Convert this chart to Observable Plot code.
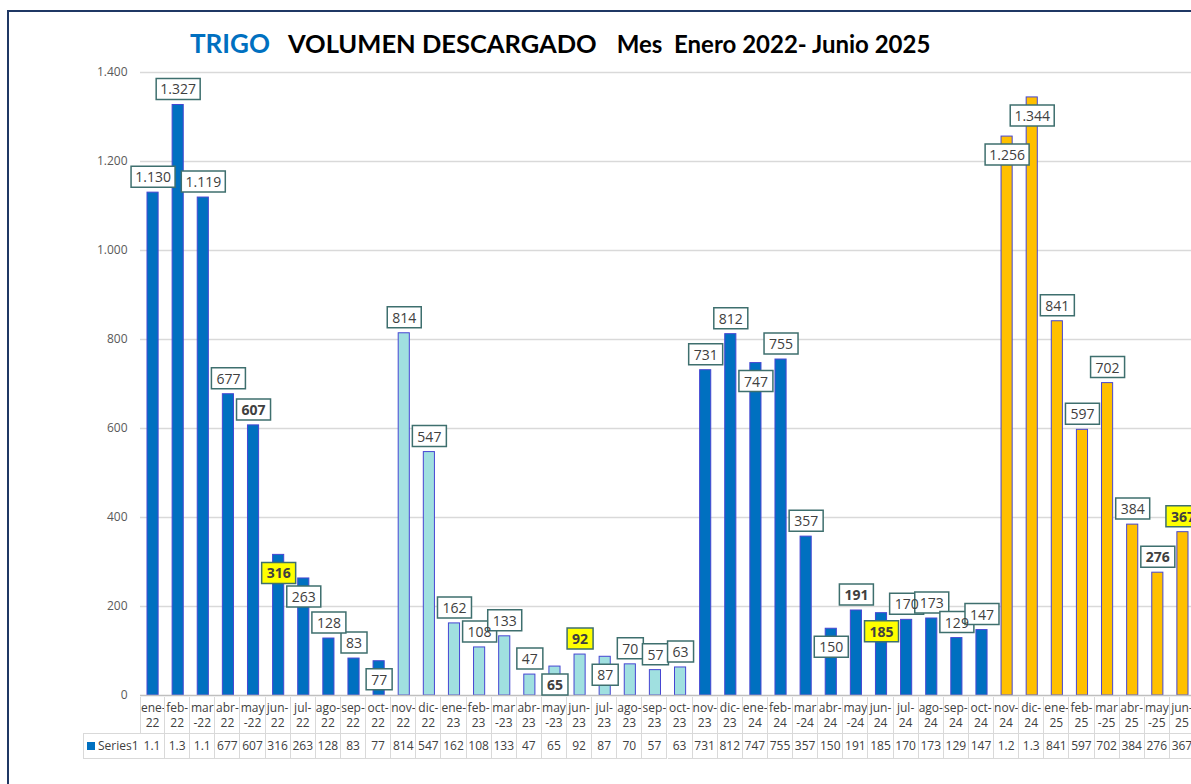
<!DOCTYPE html>
<html>
<head>
<meta charset="utf-8">
<script src="https://cdn.jsdelivr.net/npm/d3@7"></script>
<script src="https://cdn.jsdelivr.net/npm/@observablehq/plot@0.6"></script>
<style>
  html, body { margin: 0; padding: 0; background: #fff; overflow: hidden; }
  #wrap { position: relative; width: 1191px; height: 784px; overflow: hidden; font-family: "Open Sans", sans-serif; }
  #frame { position: absolute; left: 7px; top: 10px; width: 1400px; height: 1000px;
           border-top: 2px solid #1F3864; border-left: 2px solid #1F3864; }
  #title { position: absolute; left: 190px; top: 27px; white-space: nowrap; font-family: Lato, "Open Sans", sans-serif; font-weight: bold; }
  #title .t1 { color: #0070C0; font-size: 26px; }
  #title .t2 { color: #000; font-size: 25.5px; margin-left: 18px; }
  #title .t3 { color: #000; font-size: 24px; margin-left: 20px; }
  #chart { position: absolute; left: 0; top: 60px; width: 1200px; }
  #chart svg { max-width: none !important; }
  .cell { position: absolute; box-sizing: border-box; color: #404040; font-size: 12px; text-align: center; white-space: nowrap; overflow: hidden; }
</style>
</head>
<body>
<div id="wrap">
  <div id="frame"></div>
  <div id="title"><span class="t1">TRIGO</span><span class="t2">VOLUMEN DESCARGADO</span><span class="t3">Mes&nbsp; Enero 2022- Junio 2025</span></div>
  <div id="chart"></div>
  <div id="table"></div>
</div>
<script>
// ---- data ----
const categories = ["ene-22","feb-22","mar-22","abr-22","may-22","jun-22","jul-22","ago-22","sep-22","oct-22",
  "nov-22","dic-22","ene-23","feb-23","mar-23","abr-23","may-23","jun-23","jul-23","ago-23","sep-23","oct-23",
  "nov-23","dic-23","ene-24","feb-24","mar-24","abr-24","may-24","jun-24","jul-24","ago-24","sep-24","oct-24",
  "nov-24","dic-24","ene-25","feb-25","mar-25","abr-25","may-25","jun-25"];
const values = [1130,1327,1119,677,607,316,263,128,83,77,
  814,547,162,108,133,47,65,92,87,70,57,63,
  731,812,747,755,357,150,191,185,170,173,129,147,
  1256,1344,841,597,702,384,276,367];
const tickLabels = [["ene-","22"],["feb-","22"],["mar","-22"],["abr-","22"],["may","-22"],["jun-","22"],["jul-","22"],["ago-","22"],["sep-","22"],["oct-","22"],
  ["nov-","22"],["dic-","22"],["ene-","23"],["feb-","23"],["mar","-23"],["abr-","23"],["may","-23"],["jun-","23"],["jul-","23"],["ago-","23"],["sep-","23"],["oct-","23"],
  ["nov-","23"],["dic-","23"],["ene-","24"],["feb-","24"],["mar","-24"],["abr-","24"],["may","-24"],["jun-","24"],["jul-","24"],["ago-","24"],["sep-","24"],["oct-","24"],
  ["nov-","24"],["dic-","24"],["ene-","25"],["feb-","25"],["mar","-25"],["abr-","25"],["may","-25"],["jun-","25"]];
const yTicks = [0,200,400,600,800,1000,1200,1400];
const seriesName = "Series1";
const campaignColors = {"2021/22":"#0070C0","2022/23":"#A0E0E0","2023/24":"#0070C0","2024/25":"#FFC000"};
const boldLabels = ["may-22","may-23","may-24","may-25"];
const highlightLabels = ["jun-22","jun-23","jun-24","jun-25"];
const labelsInside = ["jun-22","jul-22","oct-22","may-23","jul-23","ene-24","abr-24","jun-24","nov-24","dic-24"];

// ---- helpers ----
const es = d3.formatLocale({decimal: ",", thousands: ".", grouping: [3], currency: ["$", ""]});
const fmt = es.format(",d");
function campaignOf(cat) {
  const [m, y] = cat.split("-");
  const yr = 2000 + (+y);
  const start = (m === "nov" || m === "dic") ? yr : yr - 1;
  return start + "/" + String(start + 1).slice(2);
}
const rows = categories.map((c, i) => ({
  cat: c, value: values[i], campaign: campaignOf(c), label: fmt(values[i]),
  bold: boldLabels.includes(c) || highlightLabels.includes(c),
  hi: highlightLabels.includes(c), inside: labelsInside.includes(c)
}));
function boxSymbol(w, h) {
  return { draw(ctx) { ctx.moveTo(-w/2, -h/2); ctx.lineTo(w/2, -h/2); ctx.lineTo(w/2, h/2); ctx.lineTo(-w/2, h/2); ctx.closePath(); } };
}
const boxW = {2: 26, 3: 34, 5: 44};

const labelMarks = [];
for (const inside of [false, true]) {
  const dy = inside ? 18 : -16;
  for (const len of [2, 3, 5]) {
    const sub = rows.filter(d => d.inside === inside && d.label.length === len);
    if (!sub.length) continue;
    labelMarks.push(Plot.dot(sub, {x: "cat", y: "value", dy, r: 5, symbol: boxSymbol(boxW[len], 21),
      fill: d => d.hi ? "#FFFF00" : "#FFFFFF", stroke: "#3E6F6E", strokeWidth: 1.5}));
  }
  for (const bold of [false, true]) {
    const sub = rows.filter(d => d.inside === inside && d.bold === bold);
    if (!sub.length) continue;
    labelMarks.push(Plot.text(sub, {x: "cat", y: "value", dy: dy + 1, text: "label", fill: "#404040",
      fontSize: 14, fontWeight: bold ? "bold" : "normal", fontFamily: "Open Sans"}));
  }
}

const chart = Plot.plot({
  width: 1200, height: 640,
  marginTop: 12, marginBottom: 5, marginLeft: 140, marginRight: 5,
  style: {fontFamily: "Open Sans", fontSize: "12px", color: "#595959", background: "transparent", overflow: "visible", maxWidth: "none"},
  x: {type: "band", domain: categories, padding: 0, round: false, axis: null},
  y: {domain: [0, 1400], ticks: yTicks, tickFormat: fmt, tickSize: 0, tickPadding: 13, label: null},
  marks: [
    Plot.gridY(yTicks.filter(t => t > 0), {stroke: "#D9D9D9", strokeOpacity: 1, strokeWidth: 1.3}),
    Plot.barY(rows, {x: "cat", y: "value", fill: d => campaignColors[d.campaign], stroke: "#4646D2", strokeWidth: 1, insetLeft: 7, insetRight: 7}),
    Plot.ruleY([0], {stroke: "#BFBFBF", strokeWidth: 1.3}),
    ...labelMarks
  ]
});
document.getElementById("chart").appendChild(chart);

// ---- data table under the chart, aligned on the x scale ----
const xs = chart.scale("x");
const step = xs.step ?? xs.bandwidth;
const table = document.getElementById("table");
const top0 = 697, h1 = 36, h2 = 26, legendLeft = 83;
function addCell(left, top, w, h, html, extra) {
  const d = document.createElement("div");
  d.className = "cell";
  Object.assign(d.style, {left: left + "px", top: top + "px", width: w + "px", height: h + "px"}, extra || {});
  d.innerHTML = html;
  table.appendChild(d);
}
categories.forEach((c, i) => {
  const x0 = xs.apply(c);
  addCell(x0, top0, step, h1, tickLabels[i].join("<br>"),
    {borderRight: "1px solid #D9D9D9", borderLeft: i === 0 ? "1px solid #D9D9D9" : "none", lineHeight: "15px", paddingTop: "3px"});
  const v = values[i];
  const txt = v >= 1000 ? String(Math.floor(v / 100) / 10) : String(v);
  addCell(x0, top0 + h1, step, h2, txt,
    {borderRight: "1px solid #D9D9D9", borderTop: "1px solid #D9D9D9", borderBottom: "1px solid #D9D9D9", lineHeight: "24px"});
});
const firstX = xs.apply(categories[0]);
addCell(legendLeft, top0 + h1, firstX - legendLeft, h2,
  '<span style="display:inline-block;width:8px;height:8px;background:#0070C0;margin-right:3px;vertical-align:0px"></span>' + seriesName,
  {border: "1px solid #D9D9D9", borderRight: "none", lineHeight: "24px", textAlign: "left", paddingLeft: "3px"});
</script>
</body>
</html>
